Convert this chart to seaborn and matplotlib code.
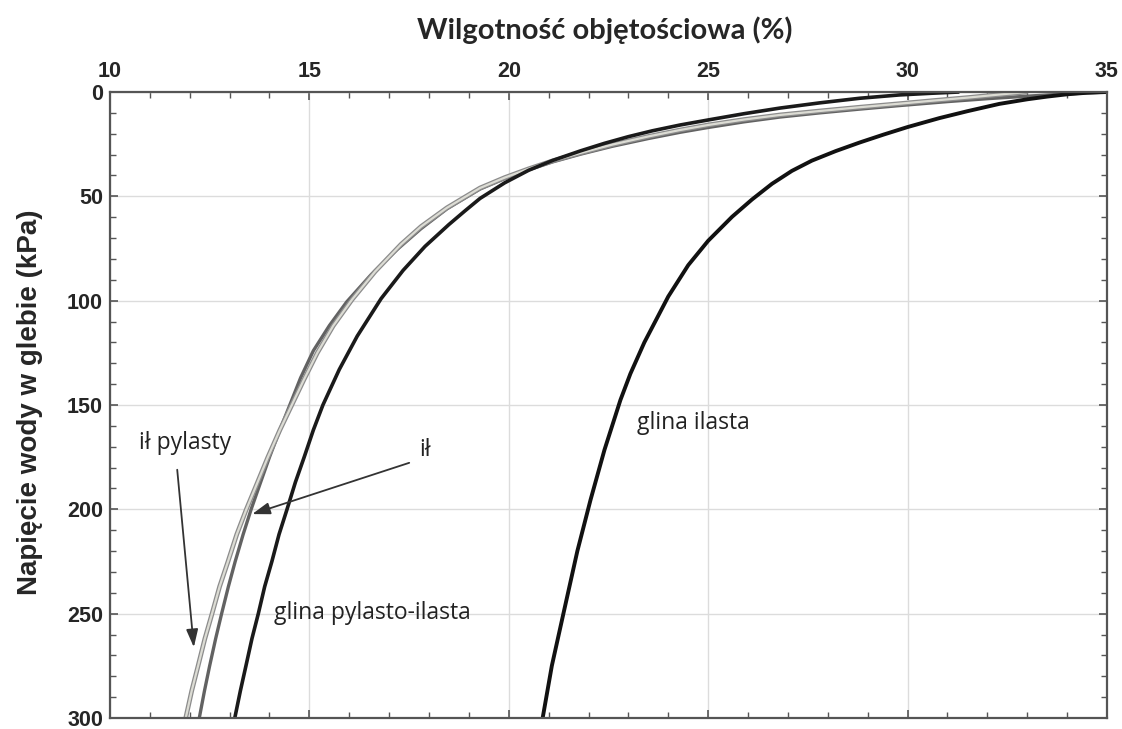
import matplotlib
matplotlib.use("Agg")
import matplotlib.pyplot as plt
import matplotlib.patheffects as pe
from matplotlib.ticker import MultipleLocator
import pandas as pd
import seaborn as sns

# Soil water retention curves: volumetric water content (%) vs soil water tension (kPa)
il_pylasty_theta = [33.0, 32.2, 31.5, 30.6, 29.8, 28.8, 27.8, 26.8, 25.9, 25.0, 24.3, 23.5, 22.6, 21.8, 21.1,
                    20.5, 19.9, 19.28, 18.45, 17.8, 17.3, 16.65, 16.07, 15.6, 15.2, 14.86, 14.56, 14.26,
                    13.96, 13.68, 13.42, 13.18, 12.96, 12.75, 12.56, 12.38, 12.21, 12.05, 11.9]
il_pylasty_psi = [0, 1.4, 2.7, 4.2, 5.6, 7.3, 9.1, 11, 13.2, 15.8, 18.2, 21.3, 25.2, 29.2, 33,
                  36.8, 41, 46, 55.5, 64.5, 73, 86, 99.5, 112, 125, 138, 150, 162,
                  175, 188, 200, 212, 225, 237, 250, 262, 275, 287, 300]

il_theta = [35.0, 34.0, 33.0, 32.0, 31.0, 29.8, 28.8, 27.8, 26.8, 25.9, 25.0, 24.3, 23.5, 22.6, 21.8, 21.1,
            20.5, 19.9, 19.28, 18.45, 17.8, 17.2, 16.55, 15.94, 15.5, 15.1, 14.78, 14.51, 14.26,
            14.0, 13.76, 13.54, 13.34, 13.14, 12.97, 12.8, 12.65, 12.5, 12.37, 12.24]
il_psi = [0, 0.9, 2.0, 3.2, 4.6, 6.5, 8.2, 10.0, 12, 14.3, 17, 19.3, 22.3, 26.0, 29.8, 33.5,
          37.3, 41.5, 46.5, 56, 65.5, 75.5, 87.5, 100.5, 112, 124, 137, 150, 162,
          175, 188, 200, 212, 225, 237, 250, 262, 275, 287, 300]

glina_pyl_il_theta = [31.3, 30.6, 29.8, 28.8, 27.8, 26.8, 25.9, 25.0, 24.3, 23.6, 23.0, 22.4, 21.8, 21.1,
                      20.5, 19.9, 19.28, 18.9, 18.5, 17.9, 17.35, 16.8, 16.2, 15.75, 15.34, 15.1, 14.87,
                      14.65, 14.44, 14.24, 14.06, 13.88, 13.72, 13.56, 13.41, 13.27, 13.13]
glina_pyl_il_psi = [0, 0.6, 1.4, 3.0, 5.2, 7.7, 10.4, 13.4, 15.8, 18.6, 21.4, 24.6, 28.2, 32.8,
                    37.5, 43.5, 51, 57, 63.5, 74, 85.5, 99, 117, 133, 150, 162, 175,
                    187, 200, 212, 225, 237, 250, 262, 275, 287, 300]

glina_ilasta_theta = [35.0, 34.5, 34.0, 33.5, 33.0, 32.3, 31.5, 30.8, 30.0, 29.4, 28.8, 28.2,
                      27.6, 27.1, 26.6, 26.1, 25.6, 25.0, 24.5, 24.0, 23.4, 23.05, 22.8, 22.4, 22.05,
                      21.72, 21.37, 21.08, 20.85]
glina_ilasta_psi = [0, 0.35, 1.1, 2.2, 3.5, 5.7, 9.2, 12.5, 16.8, 20.4, 24.2, 28.3,
                    32.9, 37.8, 44.0, 51.5, 59.8, 71.3, 83.0, 98.0, 120, 135, 147.6, 171.5, 195.5,
                    220, 250, 275, 300]

x_ticks = [10, 15, 20, 25, 30, 35]
y_ticks = [0, 50, 100, 150, 200, 250, 300]

x_title = "Wilgotność objętościowa (%)"
y_title = "Napięcie wody w glebie (kPa)"

sns.set_theme(style="white")
plt.rcParams["font.family"] = ["Liberation Sans", "DejaVu Sans"]

fig = plt.figure(figsize=(11.22, 7.29), dpi=100)
ax = fig.add_axes([0.098, 0.0151, 0.8886, 0.8587])

series = [
    ("ił", il_theta, il_psi, "#626262", 2.4, None),
    ("ił pylasty", il_pylasty_theta, il_pylasty_psi, "#dcdcd4", 1.6,
     [pe.Stroke(linewidth=3.4, foreground="#8c8c8c"), pe.Normal()]),
    ("glina pylasto-ilasta", glina_pyl_il_theta, glina_pyl_il_psi, "#1a1a1a", 2.6, None),
    ("glina ilasta", glina_ilasta_theta, glina_ilasta_psi, "#111111", 2.8, None),
]

for name, th, ps, col, lw, eff in series:
    df = pd.DataFrame({"theta": th, "psi": ps})
    sns.lineplot(data=df, x="theta", y="psi", sort=False, estimator=None,
                 color=col, linewidth=lw, ax=ax)
    line = ax.lines[-1]
    line.set_solid_capstyle("butt")
    line.set_solid_joinstyle("round")
    if eff is not None:
        line.set_path_effects(eff)

ax.set_xlim(10, 35)
ax.set_ylim(300, 0)
ax.set_xticks(x_ticks)
ax.set_yticks(y_ticks)
ax.xaxis.set_minor_locator(MultipleLocator(1))
ax.yaxis.set_minor_locator(MultipleLocator(10))
ax.xaxis.tick_top()
ax.tick_params(axis="both", which="both", direction="in", top=True, bottom=True,
               left=True, right=True, color="#555555")
ax.tick_params(which="major", length=6, width=1.2)
ax.tick_params(which="minor", length=4, width=1.0)
ax.tick_params(axis="x", labeltop=True, labelbottom=False, pad=7)
ax.tick_params(axis="y", pad=5)
ax.set_xticklabels([str(v) for v in x_ticks], fontsize=15.5, fontweight="bold")
ax.set_yticklabels([str(v) for v in y_ticks], fontsize=15.5, fontweight="bold")

ax.grid(True, which="major", color="#dcdcdc", linewidth=1.0)
ax.set_axisbelow(True)
for sp in ax.spines.values():
    sp.set_color("#555555")
    sp.set_linewidth(1.6)

ax.set_xlabel(x_title, fontsize=21, fontweight="bold", family=["Lato", "DejaVu Sans"])
ax.xaxis.set_label_position("top")
ax.xaxis.set_label_coords(0.4965, 1.099)
ax.xaxis.label.set_va("center")
ax.set_ylabel(y_title, fontsize=20, fontweight="bold")
ax.yaxis.set_label_coords(-0.080, 0.505)
ax.yaxis.label.set_va("center")

label_font = ["Open Sans", "DejaVu Sans"]
lbl = dict(fontsize=16.5, family=label_font, ha="center", va="center", color="#222222")
ax.text(11.88, 168.2, "ił pylasty", **lbl)
ax.text(17.9, 171.5, "ił", **lbl)
ax.text(16.57, 249.6, "glina pylasto-ilasta", **lbl)
ax.text(24.62, 158.6, "glina ilasta", **lbl)

arrow_style = dict(arrowstyle="-|>,head_length=0.9,head_width=0.3", color="#333333", lw=1.3)
ax.annotate("", xy=(12.11, 267.4), xytext=(11.68, 179.7), arrowprops=arrow_style)
ax.annotate("", xy=(13.5, 202.7), xytext=(17.57, 177.3), arrowprops=arrow_style)

fig.savefig("out.png", dpi=100, facecolor="white")
